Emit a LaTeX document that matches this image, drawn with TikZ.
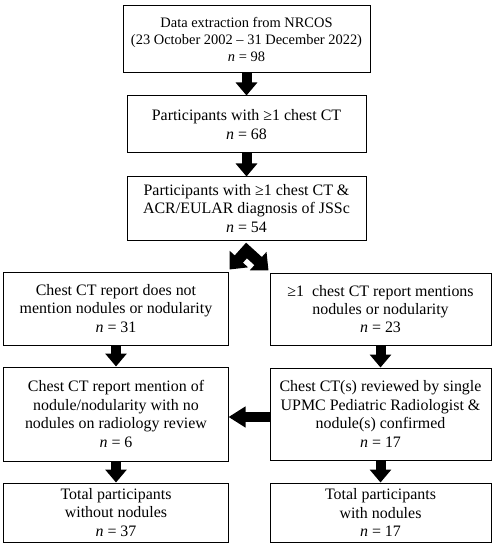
\documentclass[tikz,border=0pt]{standalone}
\usepackage{fontspec}
\setmainfont{Liberation Serif}
\usetikzlibrary{arrows.meta}
\begin{document}
\begin{tikzpicture}[x=1bp,y=-1bp,
  box/.style={draw, line width=1bp, align=center, inner sep=0pt,
    font=\fontsize{16}{18.5}\selectfont},
  wideL/.style={minimum width=224bp},
  wideR/.style={minimum width=221bp},
  blk/.style={line width=10bp, -{Triangle[width=21bp,length=13bp]}},
  blkh/.style={line width=10bp, -{Triangle[width=20bp,length=17bp]}},
  blkv/.style={line width=11bp, line join=miter,
    {Triangle[width=24bp,length=14bp]}-{Triangle[width=24bp,length=14bp]}}]
\useasboundingbox (0,0) rectangle (497,550);

\node[box, minimum width=247bp, minimum height=67bp,
  font=\fontsize{14.5}{17.5}\selectfont] (b1) at (246.5,39.5)
  {Data extraction from NRCOS\\(23 October 2002 – 31 December 2022)\\\textit{n} = 98};
\node[box, minimum width=239bp, minimum height=57bp] (b2) at (246.5,124.5)
  {Participants with ≥1 chest CT\\\textit{n} = 68};
\node[box, minimum width=239bp, minimum height=63bp] (b3) at (246.5,208.5)
  {Participants with ≥1 chest CT \&\\ACR/EULAR diagnosis of JSSc\\\textit{n} = 54};

\node[box, wideL, minimum height=73bp] (l4) at (116,308.5)
  {Chest CT report does not\\mention nodules or nodularity\\\textit{n} = 31};
\node[box, wideR, minimum height=72bp] (r4) at (380.5,309)
  {≥1\ \ chest CT report mentions\\nodules or nodularity\\\textit{n} = 23};

\node[box, wideL, minimum height=94bp] (l5) at (116,414)
  {Chest CT report mention of\\nodule/nodularity with no\\nodules on radiology review\\\textit{n} = 6};
\node[box, wideR, minimum height=92bp] (r5) at (380.5,414)
  {Chest CT(s) reviewed by single\\UPMC Pediatric Radiologist \&\\nodule(s) confirmed\\\textit{n} = 17};

\node[box, wideL, minimum height=59bp] (l6) at (116,512.5)
  {Total participants\\without nodules\\\textit{n} = 37};
\node[box, wideR, minimum height=59bp] (r6) at (380.5,512.5)
  {Total participants\\with nodules\\\textit{n} = 17};

\coordinate (apex) at ([yshift=-10bp]b3.south);

\draw[blk] (b1.south) -- (b2.north);
\draw[blk] (b2.south) -- (b3.north);
\draw[blkv] ([shift={(1bp,2bp)}]l4.north east) -- (apex) -- ([shift={(-1bp,2bp)}]r4.north west);
\draw[blk] (l4.south) -- (l5.north);
\draw[blk] (r4.south) -- (r5.north);
\draw[blkh] ([yshift=-3bp]r5.west) -- ([yshift=-3bp]l5.east);
\draw[blk] (l5.south) -- (l6.north);
\draw[blk] (r5.south) -- (r6.north);
\end{tikzpicture}
\end{document}
